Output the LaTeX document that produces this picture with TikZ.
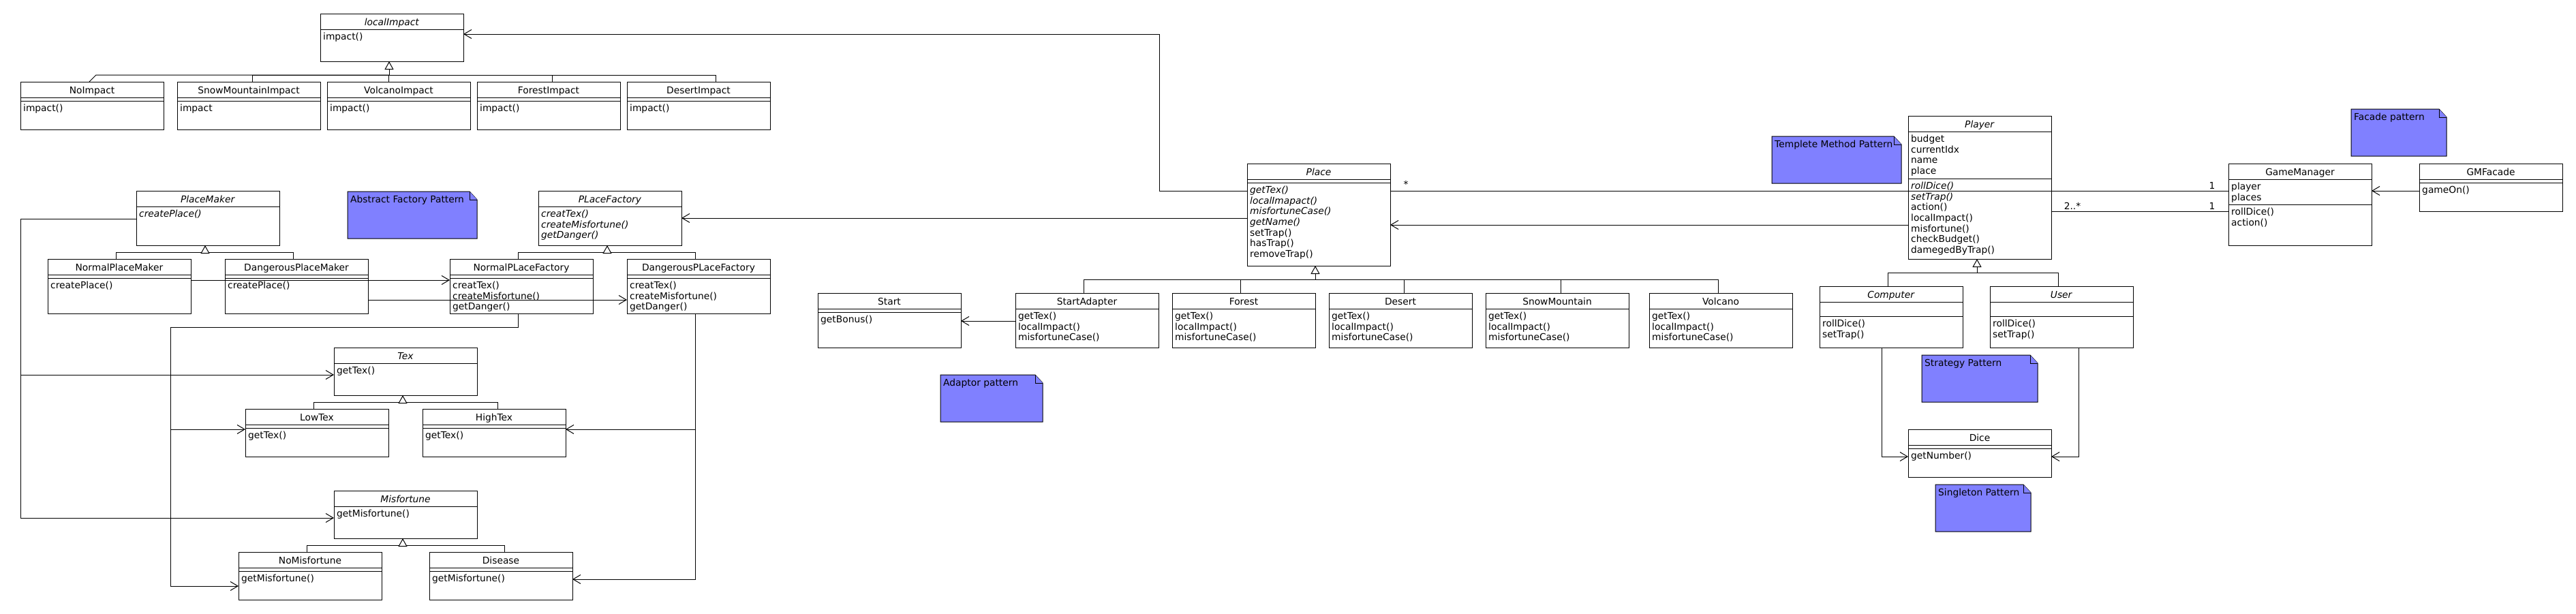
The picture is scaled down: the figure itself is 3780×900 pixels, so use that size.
\documentclass[tikz,border=0pt]{standalone}
\usepackage{fontspec}
\setmainfont{DejaVu Sans}
\usetikzlibrary{arrows.meta}
\definecolor{notefill}{RGB}{128,128,255}
\newcommand\umlfont{\fontsize{13.8}{15.6}\selectfont}
\tikzset{
  line/.style={line width=1pt},
  cls/.style={draw, line width=1pt, fill=white, anchor=north west, minimum width=210pt, inner sep=0pt, outer sep=0pt},
  ttl/.style={anchor=base, inner sep=0pt, font=\umlfont},
  txt/.style={anchor=north west, inner sep=0pt, align=left, font=\umlfont},
  lbl/.style={inner sep=0pt, font=\umlfont},
  dep/.style={line, -{Straight Barb[length=11pt,width=13pt,line width=1pt]}},
  gen/.style={line, -{Triangle[open,length=12pt,width=13pt,line width=1pt,fill=white]}},
}
% name, x, y, height, title, attribute compartment height, attributes, methods
\newcommand\umlc[8]{%
  \node[cls, minimum height=#4pt] (#1) at (#2,#3) {};
  \node[ttl] (#1-t) at ({#2+105},{#3+17.5}) {#5};
  \draw[line] (#2,{#3+23}) -- ++(210,0);
  \ifnum#6>0\relax \draw[line] (#2,{#3+23+#6}) -- ++(210,0);\fi
  \node[txt] (#1-a) at ({#2+4},{#3+27.5}) {\strut#7};
  \node[txt] (#1-m) at ({#2+4},{#3+27.5+#6}) {\strut#8};
}
% name, x, y, width, text
\newcommand\umlnote[5]{%
  \node[inner sep=0pt, outer sep=0pt, minimum width=#4pt, minimum height=69pt, anchor=north west] (#1) at (#2,#3) {};
  \draw[line, fill=notefill] (#2,#3) -- ({#2+#4-11},#3) -- ({#2+#4},{#3+12}) -- ({#2+#4},{#3+69}) -- (#2,{#3+69}) -- cycle;
  \draw[line, fill=notefill] ({#2+#4-11},#3) -- ({#2+#4-11},{#3+12}) -- ({#2+#4},{#3+12});
  \node[lbl, anchor=base west] (#1-t) at ({#2+4},{#3+16.3}) {#5};
}
\begin{document}
\begin{tikzpicture}[x=1pt,y=-1pt]
\fill[white] (0,0) rectangle (3780,900);
\useasboundingbox (0,0) rectangle (3780,900);

% ---------- localImpact hierarchy
\umlc{lI}{470}{20}{70}{\textit{localImpact}}{0}{}{impact()}
\umlc{noI}{30}{120}{70}{NoImpact}{5}{}{impact()}
\umlc{smI}{260}{120}{70}{SnowMountainImpact}{5}{}{impact}
\umlc{vI}{480}{120}{70}{VolcanoImpact}{5}{}{impact()}
\umlc{fI}{700}{120}{70}{ForestImpact}{5}{}{impact()}
\umlc{dI}{920}{120}{70}{DesertImpact}{5}{}{impact()}

% ---------- place makers and factories
\umlc{pm}{200}{280}{80}{\textit{PlaceMaker}}{0}{}{\textit{createPlace()}}
\umlc{npm}{70}{380}{80}{NormalPlaceMaker}{5}{}{createPlace()}
\umlc{dpm}{330}{380}{80}{DangerousPlaceMaker}{5}{}{createPlace()}
\umlc{pf}{790}{280}{80}{\textit{PLaceFactory}}{0}{}{\textit{creatTex()}\\\textit{createMisfortune()}\\\textit{getDanger()}}
\umlc{npf}{660}{380}{80}{NormalPLaceFactory}{5}{}{creatTex()\\createMisfortune()\\getDanger()}
\umlc{dpf}{920}{380}{80}{DangerousPLaceFactory}{5}{}{creatTex()\\createMisfortune()\\getDanger()}

% ---------- Tex and Misfortune
\umlc{tex}{490}{510}{70}{\textit{Tex}}{0}{}{getTex()}
\umlc{ltex}{360}{600}{70}{LowTex}{5}{}{getTex()}
\umlc{htex}{620}{600}{70}{HighTex}{5}{}{getTex()}
\umlc{mis}{490}{720}{70}{\textit{Misfortune}}{0}{}{getMisfortune()}
\umlc{nmis}{350}{810}{70}{NoMisfortune}{5}{}{getMisfortune()}
\umlc{dis}{630}{810}{70}{Disease}{5}{}{getMisfortune()}

% ---------- Place hierarchy
\umlc{place}{1830}{240}{150}{\textit{Place}}{5}{}{\textit{getTex()}\\\textit{localImapact()}\\\textit{misfortuneCase()}\\\textit{getName()}\\setTrap()\\hasTrap()\\removeTrap()}
\umlc{start}{1200}{430}{80}{Start}{5}{}{getBonus()}
\umlc{sa}{1490}{430}{80}{StartAdapter}{0}{}{getTex()\\localImpact()\\misfortuneCase()}
\umlc{forest}{1720}{430}{80}{Forest}{0}{}{getTex()\\localImpact()\\misfortuneCase()}
\umlc{desert}{1950}{430}{80}{Desert}{0}{}{getTex()\\localImpact()\\misfortuneCase()}
\umlc{snow}{2180}{430}{80}{SnowMountain}{0}{}{getTex()\\localImpact()\\misfortuneCase()}
\umlc{volcano}{2420}{430}{80}{Volcano}{0}{}{getTex()\\localImpact()\\misfortuneCase()}

% ---------- Player, game manager
\umlc{player}{2800}{170}{210}{\textit{Player}}{69}{budget\\currentIdx\\name\\place}{\textit{rollDice()}\\\textit{setTrap()}\\action()\\localImpact()\\misfortune()\\checkBudget()\\damegedByTrap()}
\umlc{comp}{2670}{420}{90}{\textit{Computer}}{21}{}{rollDice()\\setTrap()}
\umlc{user}{2920}{420}{90}{\textit{User}}{21}{}{rollDice()\\setTrap()}
\umlc{dice}{2800}{630}{70}{Dice}{5}{}{getNumber()}
\umlc{gm}{3270}{240}{120}{GameManager}{37}{player\\places}{rollDice()\\action()}
\umlc{gmf}{3550}{240}{70}{GMFacade}{5}{}{gameOn()}

% ---------- notes
\umlnote{nAF}{510}{281}{190}{Abstract Factory Pattern}
\umlnote{nAd}{1380}{550}{150}{Adaptor pattern}
\umlnote{nTM}{2600}{200}{190}{Templete Method Pattern}
\umlnote{nFa}{3450}{160}{140}{Facade pattern}
\umlnote{nSt}{2820}{521}{170}{Strategy Pattern}
\umlnote{nSi}{2840}{711}{140}{Singleton Pattern}

% ---------- generalization trees
\coordinate (tb1) at (571,110);
\coordinate (s1) at (141,110);
\draw[line] ([xshift=-4pt]noI.north) -- (s1) -- (tb1);
\draw[line] ([xshift=5pt]smI.north) |- (tb1);
\draw[line] ([xshift=-15pt]vI.north) |- (tb1);
\draw[line] ([xshift=5pt]fI.north) |- (tb1);
\draw[line] ([xshift=25pt]dI.north) |- (tb1);
\draw[gen] (tb1) -- ([xshift=-4pt]lI.south);

\coordinate (tb2) at (301,370);
\draw[line] ([xshift=-5pt]npm.north) |- (tb2);
\draw[line] ([xshift=-5pt]dpm.north) |- (tb2);
\draw[gen] (tb2) -- ([xshift=-4pt]pm.south);

\coordinate (tb3) at (891,370);
\draw[line] ([xshift=-5pt]npf.north) |- (tb3);
\draw[line] ([xshift=-5pt]dpf.north) |- (tb3);
\draw[gen] (tb3) -- ([xshift=-4pt]pf.south);

\coordinate (tb4) at (591,590);
\draw[line] ([xshift=-5pt]ltex.north) |- (tb4);
\draw[line] ([xshift=5pt]htex.north) |- (tb4);
\draw[gen] (tb4) -- ([xshift=-4pt]tex.south);

\coordinate (tb5) at (591,800);
\draw[line] ([xshift=-5pt]nmis.north) |- (tb5);
\draw[line] ([xshift=5pt]dis.north) |- (tb5);
\draw[gen] (tb5) -- ([xshift=-4pt]mis.south);

\coordinate (tb6) at (1930,410);
\draw[line] ([xshift=-5pt]sa.north) |- (tb6);
\draw[line] ([xshift=-5pt]forest.north) |- (tb6);
\draw[line] ([xshift=5pt]desert.north) |- (tb6);
\draw[line] ([xshift=5pt]snow.north) |- (tb6);
\draw[line] ([xshift=-4pt]volcano.north) |- (tb6);
\draw[gen] (tb6) -- ([xshift=-5pt]place.south);

\coordinate (tb7) at (2901,400);
\draw[line] ([xshift=-5pt]comp.north) |- (tb7);
\draw[line] ([xshift=-5pt]user.north) |- (tb7);
\draw[gen] (tb7) -- ([xshift=-4pt]player.south);

% ---------- dependencies / associations
\coordinate (b1) at (1701,50);
\draw[dep] ([yshift=-40pt]place.north west) -| (b1) -- ([yshift=-30pt]lI.north east);
\draw[dep] ([yshift=-80pt]place.north west) -- ([yshift=-40pt]pf.north east);
\draw[line] ([yshift=-40pt]place.north east) -- ([yshift=-40pt]gm.north west);
\draw[dep] ([yshift=-160pt]player.north west) -- ([yshift=-90pt]place.north east);
\draw[line] ([yshift=-140pt]player.north east) -- ([yshift=-70pt]gm.north west);
\draw[dep] ([yshift=-40pt]gmf.north west) -- ([yshift=-40pt]gm.north east);
\draw[dep] ([xshift=-14pt]comp.south) |- ([yshift=-40pt]dice.north west);
\draw[dep] ([xshift=25pt]user.south) |- ([yshift=-40pt]dice.north east);
\draw[dep] ([yshift=-41pt]sa.north west) -- ([yshift=-41pt]start.north east);

\draw[dep] ([yshift=-31pt]npm.north east) -- ([yshift=-31pt]npf.north west);
\draw[dep] ([yshift=-60pt]dpm.north east) -- ([yshift=-60pt]dpf.north west);

\coordinate (c1) at (30,760);
\coordinate (c2) at (30,550);
\draw[dep] ([yshift=-41pt]pm.north west) -| (c1) -- ([yshift=-40pt]mis.north west);
\draw[dep] (c2) -- ([yshift=-40pt]tex.north west);

\coordinate (c3) at (250,480);
\coordinate (c4) at (250,860);
\coordinate (c5) at (250,630);
\draw[dep] ([xshift=-5pt]npf.south) |- (c3) -- (c4) -- ([yshift=-50pt]nmis.north west);
\draw[dep] (c5) -- ([yshift=-30pt]ltex.north west);

\coordinate (c6) at (1020,630);
\draw[dep] ([xshift=-5pt]dpf.south) |- ([yshift=-40pt]dis.north east);
\draw[dep] (c6) -- ([yshift=-30pt]htex.north east);

% ---------- multiplicities
\node[lbl] (m1) at (2063,270) {*};
\node[lbl, anchor=base] (m2) at (3246,277) {1};
\node[lbl, anchor=base] (m3) at (3041,307) {2..*};
\node[lbl, anchor=base] (m4) at (3246,307) {1};
\end{tikzpicture}
\end{document}
